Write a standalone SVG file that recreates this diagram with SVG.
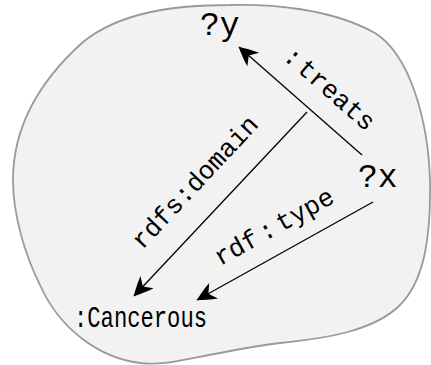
<svg xmlns="http://www.w3.org/2000/svg" width="431" height="365" viewBox="0 0 431 365">
<style>
.lbl{font-family:"Liberation Mono","DejaVu Sans Mono",monospace;fill:#000}
.edge{stroke:#000;stroke-width:1.3;fill:none;marker-end:url(#ah)}
</style>
<defs>
<marker id="ah" markerUnits="userSpaceOnUse" viewBox="-21 -11 23 22" refX="0" refY="0" markerWidth="23" markerHeight="22" orient="auto">
<path d="M0.5,0 C-5,-3 -12,-6.5 -19,-9 L-13,0 L-19,9 C-12,6.5 -5,3 0.5,0 Z" fill="#000"/>
</marker>
</defs>
<g id="blob">
<path d="M230,5 C270,4 330,8 375,33 C410,55 428,120 430,180 C431,235 425,280 400,305 C375,330 330,338 280,343 C255,346 235,350 220,353 C190,358 165,366 140,363 C100,358 60,330 40,285 C25,255 13,215 13,180 C13,130 35,85 83,42 C120,12 175,5 230,5 Z" fill="#f2f2f2" stroke="#9a9a9a" stroke-width="1.8"/>
</g>
<g id="connectors">
<line class="edge" x1="362" y1="155" x2="239" y2="47"/>
<line class="edge" x1="307" y1="112" x2="134" y2="296"/>
<line class="edge" x1="373" y1="202" x2="197" y2="300"/>
<text class="lbl" font-size="26" text-anchor="middle" transform="translate(324,95) rotate(41.3)">:<tspan dx="3">treats</tspan></text>
<text class="lbl" font-size="26" text-anchor="middle" transform="translate(201,188) rotate(-46.8)">rdfs:domain</text>
<text class="lbl" font-size="26" text-anchor="middle" transform="translate(278,234) rotate(-29.1)">rdf<tspan dx="4">:</tspan><tspan dx="4">type</tspan></text>
</g>
<g id="node-y">
<text class="lbl" font-size="33" x="200" y="35">?y</text>
</g>
<g id="node-x">
<text class="lbl" font-size="33" x="358" y="187">?x</text>
</g>
<g id="node-cancerous">
<text class="lbl" font-size="29" x="74" y="327" textLength="133" lengthAdjust="spacingAndGlyphs">:Cancerous</text>
</g>
</svg>
